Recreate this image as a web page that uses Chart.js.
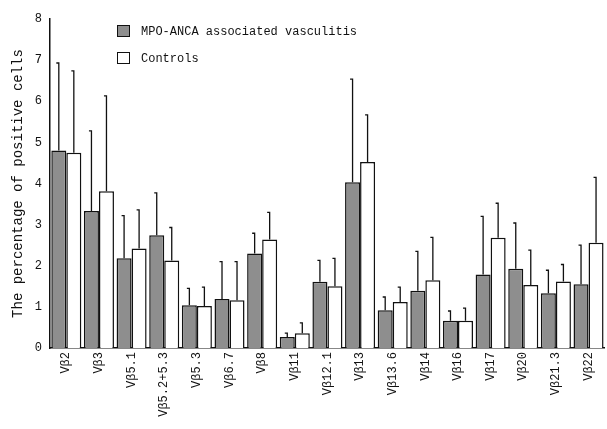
<!DOCTYPE html>
<html>
<head>
<meta charset="utf-8">
<script src="https://cdn.jsdelivr.net/npm/chart.js@4/dist/chart.umd.min.js"></script>
<style>
  body { margin: 0; background: #fff; }
  #wrap { position: relative; width: 607px; height: 429px; }
  #legend { position: absolute; left: 117px; top: 25px; font: 12px "Liberation Mono", monospace; color: #111; }
  #legend div { height: 27px; display: flex; align-items: flex-start; }
  #legend span.box { display: inline-block; width: 13px; height: 12px; border: 1.5px solid #111; margin-right: 11px; box-sizing: border-box; }
</style>
</head>
<body>
<div id="wrap">
  <canvas id="chart" width="607" height="429"></canvas>
  <div id="legend"></div>
</div>
<script>
// categories and values
const labels = ['Vβ2', 'Vβ3', 'Vβ5.1', 'Vβ5.2+5.3', 'Vβ5.3', 'Vβ6.7', 'Vβ8', 'Vβ11', 'Vβ12.1', 'Vβ13',
                'Vβ13.6', 'Vβ14', 'Vβ16', 'Vβ17', 'Vβ20', 'Vβ21.3', 'Vβ22'];
const mpoMean = [4.8, 3.33, 2.18, 2.74, 1.04, 1.19, 2.3, 0.27, 1.61, 4.03, 0.92, 1.39, 0.66, 1.79, 1.93, 1.33, 1.55];
const mpoTop = [6.93, 5.28, 3.22, 3.77, 1.45, 2.1, 2.79, 0.36, 2.13, 6.54, 1.24, 2.35, 0.9, 3.2, 3.04, 1.89, 2.5];
const ctlMean = [4.75, 3.81, 2.42, 2.13, 1.02, 1.16, 2.64, 0.36, 1.5, 4.52, 1.12, 1.65, 0.66, 2.68, 1.53, 1.62, 2.56];
const ctlTop = [6.74, 6.13, 3.36, 2.93, 1.48, 2.1, 3.3, 0.61, 2.18, 5.67, 1.48, 2.69, 0.97, 3.52, 2.38, 2.03, 4.15];
const yTicks = [0, 1, 2, 3, 4, 5, 6, 7, 8];

const monoFont = '"Liberation Mono", monospace';

// draws the upward error lines with a small cap
const errorBars = {
  id: 'errorBars',
  afterDatasetsDraw(chart) {
    const ctx = chart.ctx;
    const y = chart.scales.y;
    const tops = [mpoTop, ctlTop];
    ctx.save();
    ctx.strokeStyle = '#111';
    ctx.lineWidth = 1.3;
    chart.data.datasets.forEach((ds, i) => {
      chart.getDatasetMeta(i).data.forEach((bar, j) => {
        const yTop = y.getPixelForValue(tops[i][j]);
        ctx.beginPath();
        ctx.moveTo(bar.x, bar.y);
        ctx.lineTo(bar.x, yTop);
        ctx.lineTo(bar.x - 2.5, yTop);
        ctx.stroke();
      });
    });
    ctx.restore();
  }
};

const chart = new Chart(document.getElementById('chart').getContext('2d'), {
  type: 'bar',
  data: {
    labels: labels,
    datasets: [{
      label: 'MPO-ANCA associated vasculitis',
      data: mpoMean,
      backgroundColor: '#8e8e8e',
      borderColor: '#111',
      borderWidth: 1.5
    }, {
      label: 'Controls',
      data: ctlMean,
      backgroundColor: '#fff',
      borderColor: '#111',
      borderWidth: 1.5
    }]
  },
  options: {
    responsive: false,
    animation: false,
    layout: { padding: { top: 19, right: 2, left: 10, bottom: 0 } },
    datasets: { bar: { categoryPercentage: 0.92, barPercentage: 1 } },
    plugins: { legend: { display: false }, tooltip: { enabled: false } },
    scales: {
      x: {
        grid: { display: false, drawTicks: false },
        border: { color: '#111', width: 1.5 },
        ticks: { color: '#111', font: { family: monoFont, size: 12 }, minRotation: 90, maxRotation: 90, padding: 4 },
        afterFit(scale) { scale.height = 81; }
      },
      y: {
        min: 0,
        max: 8,
        afterBuildTicks(scale) { scale.ticks = yTicks.map(v => ({ value: v })); },
        grid: { display: false, drawTicks: true, tickLength: 3 },
        border: { color: '#111', width: 1.5 },
        ticks: { color: '#111', font: { family: monoFont, size: 12 }, padding: 5 },
        title: { display: true, text: 'The percentage of positive cells', color: '#111', font: { family: monoFont, size: 14 }, padding: 0 },
        afterFit(scale) { scale.width = 40; }
      }
    }
  },
  plugins: [errorBars]
});

// legend drawn inside the plot, like the original
const legend = document.getElementById('legend');
chart.data.datasets.forEach(ds => {
  const row = document.createElement('div');
  const box = document.createElement('span');
  box.className = 'box';
  box.style.background = ds.backgroundColor;
  row.appendChild(box);
  row.appendChild(document.createTextNode(ds.label));
  legend.appendChild(row);
});
</script>
</body>
</html>
